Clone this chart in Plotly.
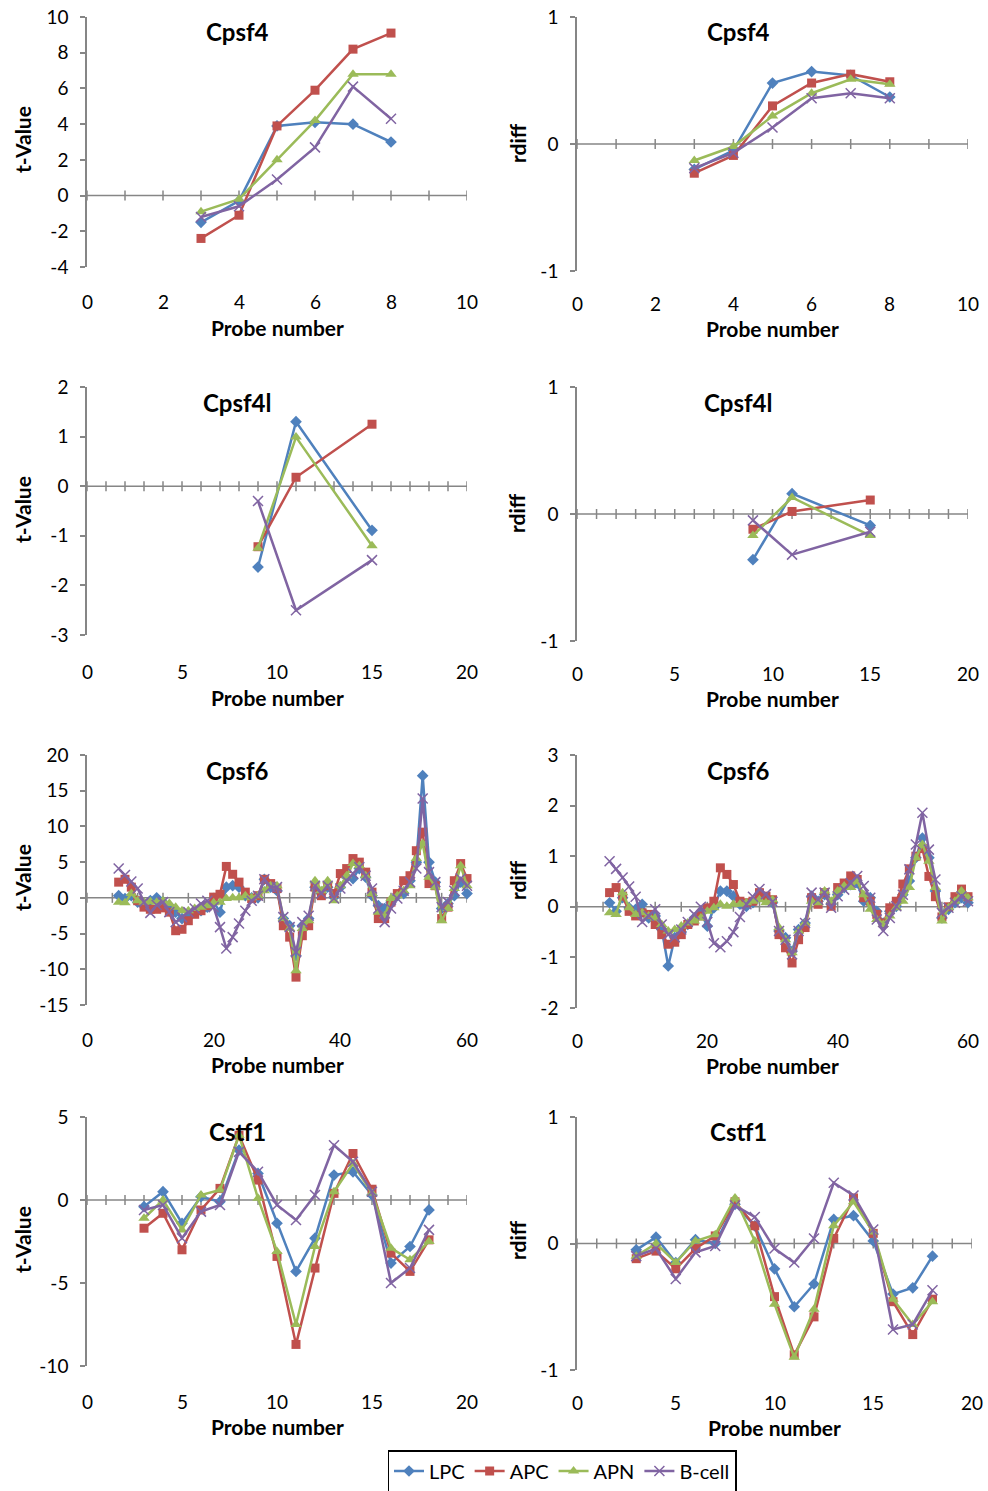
import plotly.graph_objects as go

W, H = 988, 1491

SERIES = ["LPC", "APC", "APN", "B-cell"]
COLORS = {"LPC": "#4F81BD", "APC": "#C0504D", "APN": "#9BBB59", "B-cell": "#8064A2"}
SYMBOLS = {"LPC": "diamond", "APC": "square", "APN": "triangle-up", "B-cell": "x-thin"}

# ---------------- data ----------------
cpsf4_probes = [3, 4, 5, 6, 7, 8]
cpsf4_t_lpc = [-1.5, -0.3, 3.9, 4.1, 4.0, 3.0]
cpsf4_t_apc = [-2.4, -1.1, 3.9, 5.9, 8.2, 9.1]
cpsf4_t_apn = [-0.9, -0.2, 2.0, 4.2, 6.8, 6.8]
cpsf4_t_bcell = [-1.2, -0.6, 0.9, 2.7, 6.1, 4.3]
cpsf4_r_lpc = [-0.20, -0.05, 0.48, 0.57, 0.54, 0.37]
cpsf4_r_apc = [-0.23, -0.09, 0.30, 0.48, 0.55, 0.49]
cpsf4_r_apn = [-0.13, -0.02, 0.22, 0.40, 0.51, 0.47]
cpsf4_r_bcell = [-0.19, -0.07, 0.13, 0.36, 0.40, 0.36]

cpsf4l_probes = [9, 11, 15]
cpsf4l_t_lpc = [-1.63, 1.30, -0.89]
cpsf4l_t_apc = [-1.22, 0.18, 1.25]
cpsf4l_t_apn = [-1.25, 0.99, -1.20]
cpsf4l_t_bcell = [-0.30, -2.50, -1.49]
cpsf4l_r_lpc = [-0.36, 0.16, -0.09]
cpsf4l_r_apc = [-0.12, 0.02, 0.11]
cpsf4l_r_apn = [-0.17, 0.13, -0.17]
cpsf4l_r_bcell = [-0.05, -0.32, -0.14]

cpsf6_probes = [5, 6, 7, 8, 9, 10, 11, 12, 13, 14, 15, 16, 17, 18, 19, 20, 21, 22, 23, 24,
                25, 26, 27, 28, 29, 30, 31, 32, 33, 34, 35, 36, 37, 38, 39, 40, 41, 42, 43, 44,
                45, 46, 47, 48, 49, 50, 51, 52, 53, 54, 55, 56, 57, 58, 59, 60]
cpsf6_t_lpc = [0.3, -0.1, 0.3, -0.6, -0.8, -0.4, 0.0, -0.6, -1.1, -2.0, -2.9, -2.7, -2.0, -1.8,
               -1.3, -0.6, -2.0, 1.5, 1.7, 1.5, 0.3, 0.0, 0.0, 2.6, 1.5, 1.0, -2.9, -3.9, -8.1,
               -3.9, -2.9, 1.5, 0.6, 1.5, 0.1, 1.5, 2.9, 2.7, 4.1, 2.9, 0.3, -1.1, -1.5, -0.6,
               0.3, 0.6, 2.4, 5.0, 17.1, 5.0, 2.2, -1.5, -0.8, 0.3, 2.2, 0.6]
cpsf6_t_apc = [2.2, 2.6, 1.5, -0.4, -1.3, -1.6, -1.6, -1.4, -2.0, -4.6, -4.4, -3.2, -2.3, -1.8,
               -1.1, 0.1, 0.5, 4.4, 3.3, 2.2, 0.8, -0.1, 0.3, 2.6, 2.0, 1.3, -3.9, -5.5, -11.1,
               -5.3, -3.9, 1.5, 0.3, 1.7, 0.6, 3.4, 4.1, 5.5, 5.0, 3.6, 0.8, -2.9, -2.9, -0.6,
               0.6, 2.4, 3.1, 6.6, 9.2, 2.0, 1.7, -2.9, -1.3, 2.4, 4.8, 2.7]
cpsf6_t_apn = [-0.6, -0.7, 0.6, -0.4, -0.6, -0.5, -0.6, -0.4, -0.8, -1.3, -1.8, -1.8, -1.5, -1.3,
               -1.1, -0.7, -0.6, -0.1, 0.0, 0.0, 0.3, 0.0, 0.3, 1.0, 1.7, 1.7, -2.9, -4.3, -10.2,
               -4.3, -3.2, 2.4, 1.0, 2.4, -0.4, 1.7, 3.1, 4.8, 4.5, 3.1, 0.6, -2.0, -2.5, -0.1,
               0.3, 1.0, 1.7, 5.5, 7.6, 2.9, 1.5, -3.2, -1.5, 1.3, 4.5, 1.7]
cpsf6_t_bcell = [4.1, 3.2, 2.3, 1.3, -0.6, -2.1, -1.0, -0.6, -2.0, -3.4, -2.7, -2.0, -1.5, -0.8,
                 -0.4, -1.3, -4.1, -7.1, -5.5, -3.6, -1.8, -0.4, 0.3, 2.6, 1.5, 1.5, -2.7, -4.1,
                 -7.6, -3.4, -2.5, 1.7, 0.6, 1.7, -0.1, 1.3, 2.4, 3.4, 4.3, 3.1, 1.3, -1.5, -3.4,
                 -1.5, -0.1, 1.0, 2.2, 4.1, 13.9, 3.6, 2.2, -1.3, -0.6, 1.0, 2.7, 1.7]
cpsf6_r_lpc = [0.08, -0.09, 0.18, -0.02, -0.05, 0.05, -0.22, -0.18, -0.45, -1.17, -0.61, -0.50,
               -0.35, -0.22, -0.12, -0.38, -0.02, 0.31, 0.31, 0.21, 0.05, 0.01, 0.08, 0.24, 0.14,
               0.08, -0.48, -0.61, -0.88, -0.45, -0.32, 0.21, 0.11, 0.24, 0.05, 0.24, 0.38, 0.44,
               0.47, 0.11, 0.18, -0.09, -0.32, -0.09, 0.01, 0.24, 0.51, 0.97, 1.36, 0.97, 0.31,
               -0.22, -0.05, 0.08, 0.18, 0.08]
cpsf6_r_apc = [0.28, 0.38, 0.21, -0.09, -0.18, -0.12, -0.15, -0.35, -0.55, -0.74, -0.70, -0.55,
               -0.35, -0.28, -0.18, -0.02, 0.11, 0.77, 0.64, 0.44, 0.11, 0.08, 0.11, 0.28, 0.21,
               0.14, -0.55, -0.81, -1.11, -0.65, -0.41, 0.18, 0.05, 0.28, 0.01, 0.38, 0.47, 0.61,
               0.54, 0.18, 0.11, -0.15, -0.32, -0.02, 0.11, 0.45, 0.75, 1.00, 1.15, 0.60, 0.20,
               -0.20, 0.00, 0.20, 0.35, 0.20]
cpsf6_r_apn = [-0.12, -0.15, 0.28, -0.02, -0.15, -0.12, -0.18, -0.22, -0.35, -0.48, -0.45, -0.38,
               -0.32, -0.28, -0.22, -0.09, -0.02, 0.05, 0.01, 0.05, 0.05, 0.08, 0.11, 0.14, 0.08,
               0.14, -0.41, -0.65, -0.91, -0.48, -0.32, 0.11, 0.08, 0.31, 0.11, 0.31, 0.41, 0.38,
               0.51, 0.24, -0.05, -0.25, -0.35, -0.18, -0.02, 0.11, 0.38, 0.97, 1.23, 0.90, 0.38,
               -0.28, -0.02, 0.11, 0.31, 0.18]
cpsf6_r_bcell = [0.90, 0.75, 0.58, 0.40, 0.20, -0.30, -0.18, -0.05, -0.35, -0.55, -0.60, -0.45,
                 -0.30, -0.15, 0.00, -0.30, -0.72, -0.80, -0.68, -0.50, -0.20, 0.05, 0.20, 0.35,
                 0.25, 0.10, -0.48, -0.65, -0.94, -0.48, -0.32, 0.28, 0.14, 0.28, -0.02, 0.21,
                 0.34, 0.47, 0.61, 0.41, 0.18, -0.25, -0.48, -0.22, 0.01, 0.24, 0.74, 1.23, 1.86,
                 1.13, 0.54, -0.12, -0.02, 0.08, 0.21, 0.11]

cstf1_probes = [3, 4, 5, 6, 7, 8, 9, 10, 11, 12, 13, 14, 15, 16, 17, 18]
cstf1_t_lpc = [-0.4, 0.5, -1.4, 0.2, -0.1, 3.0, 1.6, -1.4, -4.3, -2.3, 1.5, 1.7, 0.3, -3.8, -2.8, -0.6]
cstf1_t_apc = [-1.7, -0.8, -3.0, -0.6, 0.7, 3.9, 1.2, -3.4, -8.7, -4.1, 0.4, 2.8, 0.65, -3.2, -4.3, -2.4]
cstf1_t_apn = [-1.1, 0.0, -1.8, 0.3, 0.6, 3.9, 0.1, -3.1, -7.5, -2.8, 0.5, 2.2, 0.4, -2.9, -3.6, -2.5]
cstf1_t_bcell = [-0.6, -0.3, -2.3, -0.7, -0.3, 2.9, 1.7, -0.3, -1.2, 0.3, 3.3, 2.3, 0.5, -5.0, -4.1, -1.8]
cstf1_r_lpc = [-0.05, 0.05, -0.15, 0.03, 0.0, 0.31, 0.14, -0.20, -0.50, -0.32, 0.19, 0.22, 0.02, -0.40, -0.35, -0.10]
cstf1_r_apc = [-0.12, -0.06, -0.20, -0.04, 0.06, 0.33, 0.14, -0.42, -0.88, -0.58, 0.04, 0.36, 0.08, -0.46, -0.72, -0.44]
cstf1_r_apn = [-0.10, 0.00, -0.15, 0.02, 0.07, 0.36, 0.02, -0.48, -0.90, -0.52, 0.14, 0.33, 0.09, -0.44, -0.64, -0.46]
cstf1_r_bcell = [-0.10, -0.04, -0.28, -0.07, -0.02, 0.30, 0.21, -0.04, -0.15, 0.04, 0.48, 0.38, 0.11, -0.68, -0.64, -0.37]

# tick labels
x_ticks_cpsf4 = [0, 2, 4, 6, 8, 10]
x_ticks_20 = [0, 5, 10, 15, 20]
x_ticks_60 = [0, 20, 40, 60]
y_ticks_cpsf4_t = [-4, -2, 0, 2, 4, 6, 8, 10]
y_ticks_r1 = [-1, 0, 1]
y_ticks_cpsf4l_t = [-3, -2, -1, 0, 1, 2]
y_ticks_cpsf6_t = [-15, -10, -5, 0, 5, 10, 15, 20]
y_ticks_cpsf6_r = [-2, -1, 0, 1, 2, 3]
y_ticks_cstf1_t = [-10, -5, 0, 5]

# ---------------- layout of panels (pixel boxes) ----------------
panels = [
    dict(title="Cpsf4", probes=cpsf4_probes,
         vals=[cpsf4_t_lpc, cpsf4_t_apc, cpsf4_t_apn, cpsf4_t_bcell],
         xr=[0, 10], xt=x_ticks_cpsf4, minor=1, yr=[-4, 10], yt=y_ticks_cpsf4_t,
         ytitle="t-Value", box=(87, 467, 17, 267), xlab_y=301, xtitle_y=327, tx=237, ty=32, ytx=22, yty=140),
    dict(title="Cpsf4", probes=cpsf4_probes,
         vals=[cpsf4_r_lpc, cpsf4_r_apc, cpsf4_r_apn, cpsf4_r_bcell],
         xr=[0, 10], xt=x_ticks_cpsf4, minor=1, yr=[-1, 1], yt=y_ticks_r1,
         ytitle="rdiff", box=(577, 968, 17, 271), xlab_y=303, xtitle_y=328, tx=738, ty=32, ytx=517, yty=143),
    dict(title="Cpsf4l", probes=cpsf4l_probes,
         vals=[cpsf4l_t_lpc, cpsf4l_t_apc, cpsf4l_t_apn, cpsf4l_t_bcell],
         xr=[0, 20], xt=x_ticks_20, minor=1, yr=[-3, 2], yt=y_ticks_cpsf4l_t,
         ytitle="t-Value", box=(87, 467, 387, 635), xlab_y=671, xtitle_y=697, tx=237, ty=402, ytx=22, yty=510),
    dict(title="Cpsf4l", probes=cpsf4l_probes,
         vals=[cpsf4l_r_lpc, cpsf4l_r_apc, cpsf4l_r_apn, cpsf4l_r_bcell],
         xr=[0, 20], xt=x_ticks_20, minor=1, yr=[-1, 1], yt=y_ticks_r1,
         ytitle="rdiff", box=(577, 968, 387, 641), xlab_y=673, xtitle_y=698, tx=738, ty=402, ytx=517, yty=513),
    dict(title="Cpsf6", probes=cpsf6_probes,
         vals=[cpsf6_t_lpc, cpsf6_t_apc, cpsf6_t_apn, cpsf6_t_bcell],
         xr=[0, 60], xt=x_ticks_60, minor=4, yr=[-15, 20], yt=y_ticks_cpsf6_t,
         ytitle="t-Value", box=(87, 467, 755, 1005), xlab_y=1039, xtitle_y=1064, tx=237, ty=770, ytx=22, yty=878),
    dict(title="Cpsf6", probes=cpsf6_probes,
         vals=[cpsf6_r_lpc, cpsf6_r_apc, cpsf6_r_apn, cpsf6_r_bcell],
         xr=[0, 60], xt=x_ticks_60, minor=4, yr=[-2, 3], yt=y_ticks_cpsf6_r,
         ytitle="rdiff", box=(577, 968, 755, 1008), xlab_y=1040, xtitle_y=1065, tx=738, ty=770, ytx=517, yty=880),
    dict(title="Cstf1", probes=cstf1_probes,
         vals=[cstf1_t_lpc, cstf1_t_apc, cstf1_t_apn, cstf1_t_bcell],
         xr=[0, 20], xt=x_ticks_20, minor=1, yr=[-10, 5], yt=y_ticks_cstf1_t,
         ytitle="t-Value", box=(87, 467, 1117, 1366), xlab_y=1401, xtitle_y=1426, tx=237, ty=1131, ytx=22, yty=1240),
    dict(title="Cstf1", probes=cstf1_probes,
         vals=[cstf1_r_lpc, cstf1_r_apc, cstf1_r_apn, cstf1_r_bcell],
         xr=[0, 20], xt=x_ticks_20, minor=1, yr=[-1, 1], yt=y_ticks_r1,
         ytitle="rdiff", box=(577, 972, 1117, 1370), xlab_y=1402, xtitle_y=1427, tx=738, ty=1131, ytx=517, yty=1240),
]

FONT = "Lato"
AX = "#868686"
TICK_SIZE = 19

fig = go.Figure()
layout = dict(template="none", width=W, height=H, margin=dict(l=0, r=0, t=0, b=0, autoexpand=False),
              paper_bgcolor="white", plot_bgcolor="white",
              font=dict(family=FONT, size=TICK_SIZE, color="black"))
shapes = []
annotations = []

for i, p in enumerate(panels):
    n = i + 1
    xa = "xaxis" if n == 1 else f"xaxis{n}"
    ya = "yaxis" if n == 1 else f"yaxis{n}"
    xref = "x" if n == 1 else f"x{n}"
    yref = "y" if n == 1 else f"y{n}"
    x0, x1, y0, y1 = p["box"]
    layout[xa] = dict(domain=[x0 / W, x1 / W], range=p["xr"], anchor=yref, automargin=False,
                      showgrid=False, zeroline=False, showline=False,
                      tickvals=[], fixedrange=True)
    layout[ya] = dict(domain=[1 - y1 / H, 1 - y0 / H], range=p["yr"], anchor=xref, automargin=False,
                      showgrid=False, zeroline=False, showline=True, linecolor=AX, linewidth=1.5,
                      ticks="outside", ticklen=5, tickcolor=AX, tickwidth=1.5,
                      ticklabelstandoff=8,
                      tickvals=p["yt"], ticktext=[str(t) for t in p["yt"]],
                      tickfont=dict(size=TICK_SIZE, family=FONT, color="black"))
    for s, v in zip(SERIES, p["vals"]):
        marker = dict(symbol=SYMBOLS[s], color=COLORS[s], size=9, line=dict(width=0))
        if s == "B-cell":
            marker = dict(symbol="x-thin", size=10, line=dict(color=COLORS[s], width=1.5))
        if s == "APN":
            marker["size"] = 10
        fig.add_trace(go.Scatter(x=p["probes"], y=v, mode="lines+markers", name=s,
                                 line=dict(color=COLORS[s], width=2.5), marker=marker,
                                 xaxis=xref, yaxis=yref, showlegend=(n == 1), cliponaxis=False))
    # horizontal axis line at y=0 with crossing tick marks
    shapes.append(dict(type="line", xref=xref, yref=yref, x0=p["xr"][0], x1=p["xr"][1], y0=0, y1=0,
                       line=dict(color=AX, width=1.5), layer="below"))
    k = p["xr"][0]
    while k <= p["xr"][1] + 1e-9:
        shapes.append(dict(type="line", xref=xref, yref=yref, x0=k, x1=k,
                           ysizemode="pixel", yanchor=0, y0=-5, y1=5,
                           line=dict(color=AX, width=1.5), layer="below"))
        k += p["minor"]
    # x tick labels below the plot
    for t in p["xt"]:
        annotations.append(dict(x=t, xref=xref, y=1 - p["xlab_y"] / H, yref="paper",
                                text=str(t), showarrow=False, xanchor="center", yanchor="middle",
                                font=dict(size=TICK_SIZE, family=FONT)))
    annotations.append(dict(x=(x0 + x1) / 2 / W, xref="paper", y=1 - p["xtitle_y"] / H, yref="paper",
                            text="<b>Probe number</b>", showarrow=False, xanchor="center", yanchor="middle",
                            font=dict(size=21, family=FONT)))
    annotations.append(dict(x=p["tx"] / W, xref="paper", y=1 - p["ty"] / H, yref="paper",
                            text=f"<b>{p['title']}</b>", showarrow=False, xanchor="center", yanchor="middle",
                            font=dict(size=24, family=FONT)))
    annotations.append(dict(x=p["ytx"] / W, xref="paper", y=1 - p["yty"] / H, yref="paper",
                            text=f"<b>{p['ytitle']}</b>", showarrow=False, xanchor="center", yanchor="middle",
                            textangle=-90, font=dict(size=21, family=FONT)))

layout["shapes"] = shapes
layout["annotations"] = annotations
layout["legend"] = dict(orientation="h", x=562 / W, xanchor="center", y=1 - 1471 / H, yanchor="middle",
                        bordercolor="black", borderwidth=1.5, bgcolor="white",
                        font=dict(size=20, family=FONT), itemwidth=30, tracegroupgap=0)
fig.update_layout(**layout)
fig.write_html("out.html")
